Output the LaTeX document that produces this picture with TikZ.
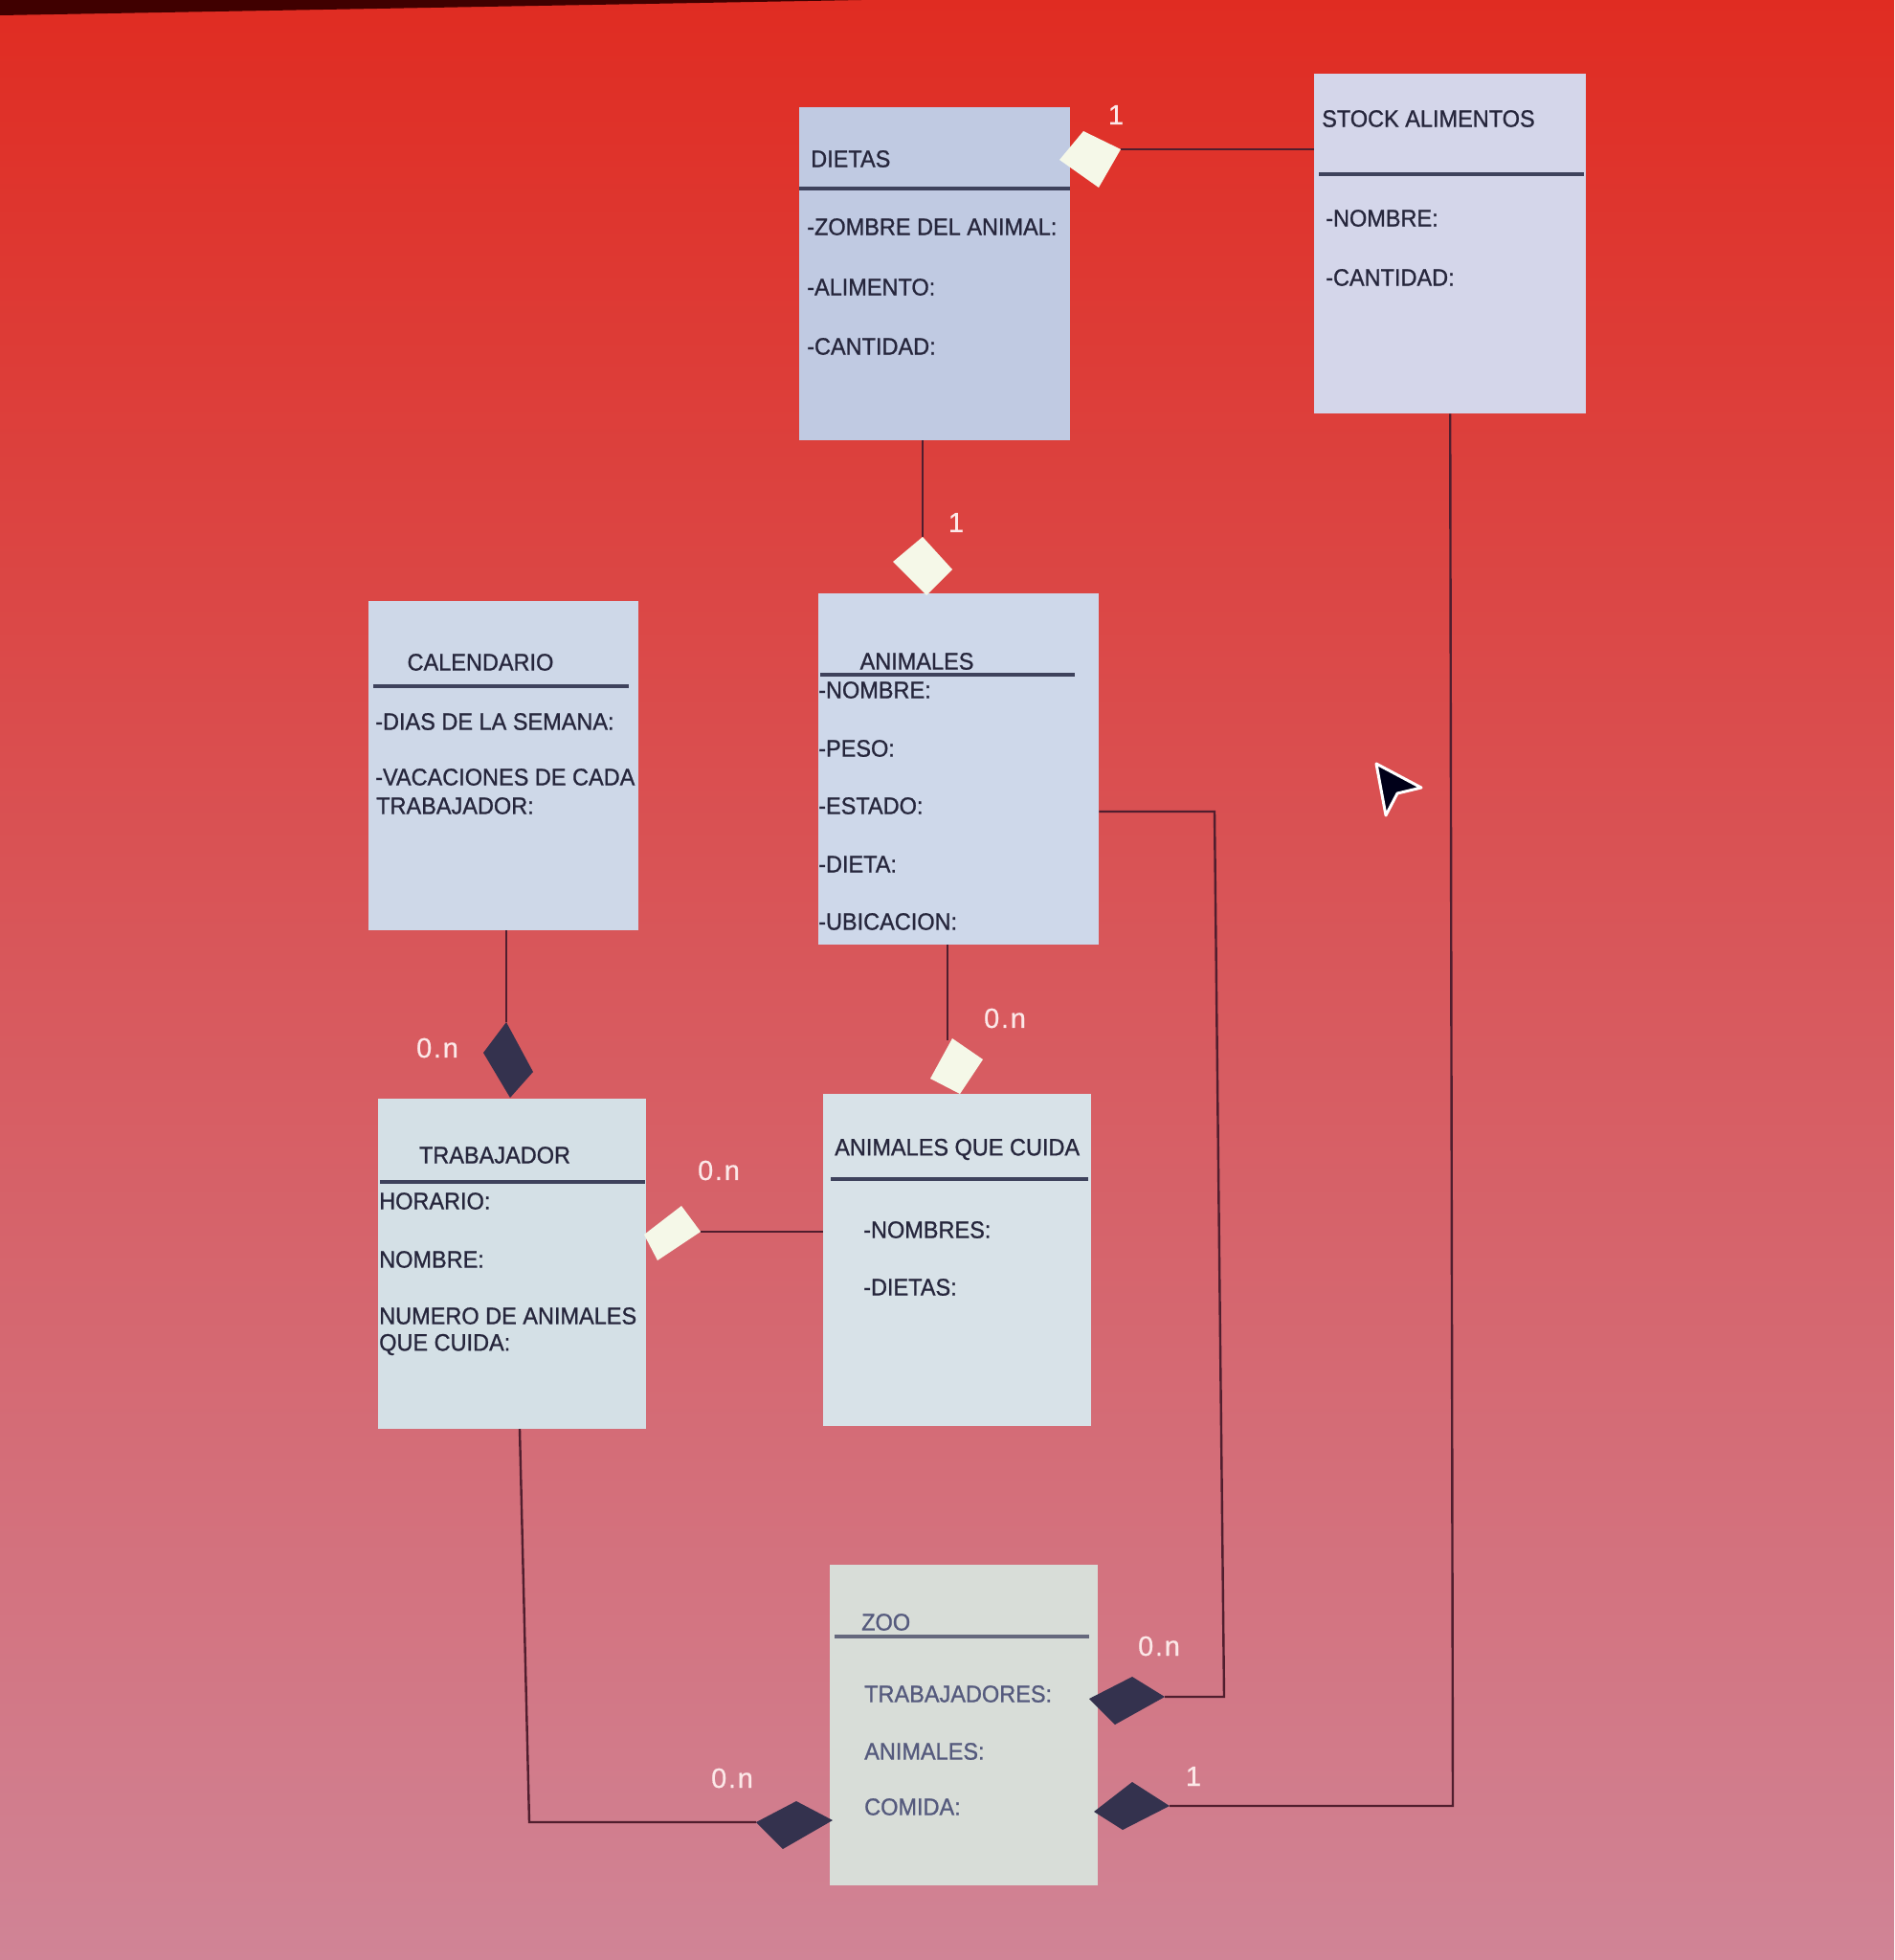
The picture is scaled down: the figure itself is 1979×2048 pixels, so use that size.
\documentclass[tikz,border=0pt]{standalone}
\usepackage{fontspec}
\setmainfont{Liberation Sans}
\newfontfamily\boxfont[FakeStretch=0.94,FakeBold=0.9]{Liberation Sans}
\newfontfamily\lblfont[FakeBold=0.6,LetterSpace=6]{Liberation Sans}
\definecolor{bgtop}{RGB}{224,44,34}
\definecolor{bgmid}{RGB}{224,90,92}
\definecolor{bgbot}{RGB}{208,132,150}
\definecolor{txtc}{RGB}{38,38,60}
\definecolor{zootxt}{RGB}{85,90,125}
\definecolor{sepc}{RGB}{62,66,92}
\definecolor{linec}{RGB}{80,30,46}
\definecolor{darkdia}{RGB}{52,50,78}
\definecolor{whitedia}{RGB}{245,248,232}
\definecolor{fdiet}{RGB}{192,202,226}
\definecolor{fstock}{RGB}{212,214,234}
\definecolor{fcal}{RGB}{206,216,232}
\definecolor{fani}{RGB}{206,216,234}
\definecolor{ftrab}{RGB}{212,224,230}
\definecolor{faqc}{RGB}{216,226,232}
\definecolor{fzoo}{RGB}{216,221,216}
\definecolor{lblc}{RGB}{252,232,232}
\begin{document}
\begin{tikzpicture}[x=1pt,y=-1pt,
  box/.style={rectangle,draw=none,inner sep=0pt,anchor=north west},
  txt/.style={inner sep=0pt,anchor=west,text=txtc,font=\boxfont\fontsize{25}{30}\selectfont},
  ztxt/.style={txt,text=zootxt},
  sep/.style={draw=sepc,line width=4pt},
  conn/.style={draw=linec,line width=2.4pt},
  wdia/.style={fill=whitedia},
  ddia/.style={fill=darkdia},
  lbl/.style={inner sep=0pt,text=lblc,font=\lblfont\fontsize{29}{32}\selectfont}]
% background
\shade[top color=bgtop,middle color=bgmid,bottom color=bgbot] (0,0) rectangle (1979,2048);
\fill[black!75!red] (0,0) -- (900,0) -- (0,16) -- cycle;
\useasboundingbox (0,0) rectangle (1979,2048);

% ---------- boxes ----------
\node[box,fill=fdiet,minimum width=283pt,minimum height=348pt] (dietas) at (835,112) {};
\node[box,fill=fstock,minimum width=284pt,minimum height=355pt] (stock) at (1373,77) {};
\node[box,fill=fcal,minimum width=282pt,minimum height=344pt] (cal) at (385,628) {};
\node[box,fill=fani,minimum width=293pt,minimum height=367pt] (ani) at (855,620) {};
\node[box,fill=ftrab,minimum width=280pt,minimum height=345pt] (trab) at (395,1148) {};
\node[box,fill=faqc,minimum width=280pt,minimum height=347pt] (aqc) at (860,1143) {};
\node[box,fill=fzoo,minimum width=280pt,minimum height=335pt] (zoo) at (867,1635) {};

% separators
\draw[sep] (835,197) -- (1118,197);
\draw[sep] (1378,182) -- (1655,182);
\draw[sep] (390,717) -- (657,717);
\draw[sep] (857,705) -- (1123,705);
\draw[sep] (397,1235) -- (674,1235);
\draw[sep] (868,1232) -- (1137,1232);
\draw[sep,draw=sepc!80] (872,1710) -- (1138,1710);

% texts DIETAS
\node[txt] (dietas-t) at (847,166) {DIETAS};
\node[txt] (dietas-a1) at (843,237) {-ZOMBRE DEL ANIMAL:};
\node[txt] (dietas-a2) at (843,300) {-ALIMENTO:};
\node[txt] (dietas-a3) at (843,362) {-CANTIDAD:};
% STOCK
\node[txt] (stock-t) at (1381,124) {STOCK ALIMENTOS};
\node[txt] (stock-a1) at (1385,228) {-NOMBRE:};
\node[txt] (stock-a2) at (1385,290) {-CANTIDAD:};
% CALENDARIO
\node[txt,anchor=center] (cal-t) at (502,692) {CALENDARIO};
\node[txt] (cal-a1) at (392,754) {-DIAS DE LA SEMANA:};
\node[txt] (cal-a2) at (392,812) {-VACACIONES DE CADA};
\node[txt] (cal-a3) at (393,842) {TRABAJADOR:};
% ANIMALES
\node[txt,anchor=center] (ani-t) at (958,691) {ANIMALES};
\node[txt] (ani-a1) at (855,721) {-NOMBRE:};
\node[txt] (ani-a2) at (855,782) {-PESO:};
\node[txt] (ani-a3) at (855,842) {-ESTADO:};
\node[txt] (ani-a4) at (855,903) {-DIETA:};
\node[txt] (ani-a5) at (855,963) {-UBICACION:};
% TRABAJADOR
\node[txt,anchor=center] (trab-t) at (517,1207) {TRABAJADOR};
\node[txt] (trab-a1) at (396,1255) {HORARIO:};
\node[txt] (trab-a2) at (396,1316) {NOMBRE:};
\node[txt] (trab-a3) at (396,1375) {NUMERO DE ANIMALES};
\node[txt] (trab-a4) at (396,1405) {QUE CUIDA:};
% ANIMALES QUE CUIDA
\node[txt] (aqc-t) at (872,1201) {ANIMALES QUE CUIDA};
\node[txt] (aqc-a1) at (902,1285) {-NOMBRES:};
\node[txt] (aqc-a2) at (902,1345) {-DIETAS:};
% ZOO
\node[ztxt] (zoo-t) at (900,1695) {ZOO};
\node[ztxt] (zoo-a1) at (903,1770) {TRABAJADORES:};
\node[ztxt] (zoo-a2) at (903,1830) {ANIMALES:};
\node[ztxt] (zoo-a3) at (903,1888) {COMIDA:};

% ---------- diamonds (connector ends) ----------
\coordinate (d1) at (1171,156);
\coordinate (d2) at (964,561);
\coordinate (d3) at (529,1068);
\coordinate (d4) at (732,1287);
\coordinate (d5) at (990,1087);
\coordinate (d6) at (1217,1773);
\coordinate (d7) at (1222,1887);
\coordinate (d8) at (790,1904);
\coordinate (b6a) at (1279,1773);
\coordinate (b6b) at (1269,848);
\coordinate (b7a) at (1518,1887);
\coordinate (b8a) at (553,1904);
\coordinate (b8b) at (543,1493);

% connectors
\draw[conn] (d1) -- (stock.west |- d1);
\draw[conn] (dietas.south -| d2) -- (d2);
\draw[conn] (cal.south -| d3) -- (d3);
\draw[conn] (d4) -- (aqc.west |- d4);
\draw[conn] (ani.south -| d5) -- (d5);
\draw[conn] (d6) -- (b6a) -- (b6b) -- (ani.east |- b6b);
\draw[conn] (d7) -- (b7a) -- (stock.south);
\draw[conn] (d8) -- (b8a) -- (b8b);

\fill[wdia] (1132,137) -- (d1) -- (1148,196) -- (1107,167) -- cycle;
\fill[wdia] (d2) -- (995,595) -- (968,622) -- (933,587) -- cycle;
\fill[ddia] (d3) -- (557,1120) -- (533,1147) -- (505,1100) -- cycle;
\fill[wdia] (712,1260) -- (d4) -- (687,1317) -- (673,1290) -- cycle;
\fill[wdia] (995,1085) -- (1027,1107) -- (1003,1143) -- (972,1127) -- cycle;
\fill[ddia] (1138,1775) -- (1183,1752) -- (d6) -- (1165,1802) -- cycle;
\fill[ddia] (1143,1893) -- (1183,1862) -- (d7) -- (1173,1912) -- cycle;
\fill[ddia] (d8) -- (832,1882) -- (870,1902) -- (818,1932) -- cycle;

% multiplicities
\node[lbl] (m1) at (1166,120) {1};
\node[lbl] (m2) at (999,546) {1};
\node[lbl] (m3) at (457,1095) {0.n};
\node[lbl] (m4) at (751,1223) {0.n};
\node[lbl] (m5) at (1050,1064) {0.n};
\node[lbl] (m6) at (1211,1720) {0.n};
\node[lbl] (m7) at (1247,1856) {1};
\node[lbl] (m8) at (765,1858) {0.n};

% mouse cursor
\filldraw[fill=black!90!blue,draw=white,line width=3pt,line join=round]
  (1438,798) -- (1485,823) -- (1460,829) -- (1448,852) -- cycle;
\end{tikzpicture}
\end{document}
